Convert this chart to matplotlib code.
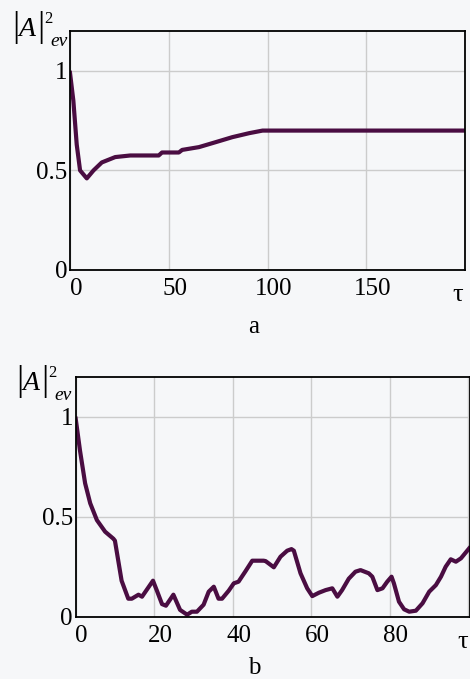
"""Evolution of |A|^2 over tau for two regimes (panels a and b)."""

import matplotlib
matplotlib.use("Agg")
import matplotlib.pyplot as plt
import matplotlib.transforms as mtransforms

# panel a: fast drop, slow recovery, then saturation
tau_a = [0, 1.7, 3.4, 5.1, 8.5, 11.9, 16.1, 22.9, 30.5, 44.9, 46.6, 55.1,
         56.8, 65.3, 73.8, 82.2, 90.7, 97.5, 200]
amp_a = [0.99, 0.85, 0.63, 0.50, 0.46, 0.50, 0.54, 0.567, 0.575, 0.575, 0.59, 0.59,
         0.603, 0.617, 0.642, 0.667, 0.687, 0.70, 0.70]

# panel b: decay followed by irregular oscillation near zero
tau_b = [0, 1.1, 2.4, 3.7, 5.4, 7.5, 9.6, 10.0, 11.7, 13.4, 14.3, 16.0, 16.9,
         19.7, 20.7, 22.0, 23.0, 24.9, 26.6, 28.4, 29.6, 30.9, 32.6, 33.9, 35.2,
         36.4, 37.3, 39.0, 40.3, 41.5, 43.2, 45.0, 47.9, 48.4, 50.5, 52.2, 53.9,
         55.0, 55.6, 57.3, 59.0, 60.3, 62.0, 63.7, 65.4, 66.7, 67.9, 69.6, 71.3,
         72.6, 74.7, 75.6, 76.9, 78.2, 79.4, 80.5, 81.1, 82.4, 83.7, 85.0, 86.7,
         88.4, 90.1, 91.8, 93.1, 94.3, 95.6, 96.9, 98.2, 100.3]
amp_b = [0.99, 0.83, 0.667, 0.567, 0.483, 0.425, 0.39, 0.38, 0.18, 0.09, 0.09, 0.11, 0.10,
         0.18, 0.13, 0.063, 0.055, 0.11, 0.034, 0.01, 0.025, 0.025, 0.06, 0.125, 0.15,
         0.09, 0.09, 0.13, 0.167, 0.175, 0.225, 0.28, 0.28, 0.278, 0.247, 0.30, 0.33,
         0.338, 0.33, 0.217, 0.142, 0.103, 0.12, 0.133, 0.142, 0.10, 0.133, 0.19, 0.225,
         0.233, 0.217, 0.20, 0.133, 0.142, 0.175, 0.20, 0.167, 0.075, 0.037, 0.025, 0.03,
         0.067, 0.125, 0.158, 0.20, 0.25, 0.287, 0.275, 0.292, 0.342]

ticks_a = [0, 50, 100, 150, 200]
ticks_b = [0, 20, 40, 60, 80, 100]
yticks = [0, 0.5, 1]

BG = "#f6f7f9"
LINE = "#4a0d42"
GRID = "#cccccc"
W, H = 470, 679

plt.rcParams["font.family"] = "serif"
plt.rcParams["font.serif"] = ["Liberation Serif", "DejaVu Serif"]
plt.rcParams["font.size"] = 18

fig = plt.figure(figsize=(W / 100, H / 100), dpi=100, facecolor=BG)


def px(x, y):
    """Pixel position (from top-left) to figure fraction."""
    return x / W, 1 - y / H


def setup_axes(ax, xticks, xmax):
    ax.set_facecolor(BG)
    ax.set_xlim(0, xmax)
    ax.set_ylim(0, 1.2)
    ax.set_xticks(xticks)
    ax.set_xticklabels([str(t) for t in xticks[:-1]] + [""])
    ax.set_yticks(yticks)
    ax.set_yticklabels(["0", "0.5", "1"])
    ax.tick_params(length=0, labelsize=18)
    ax.tick_params(axis="x", pad=6)
    ax.tick_params(axis="y", pad=2)
    ax.grid(True, color=GRID, linewidth=1.0)
    ax.set_axisbelow(True)
    for sp in ax.spines.values():
        sp.set_color("black")
        sp.set_linewidth(1.3)
    shift = mtransforms.ScaledTranslation(6 / 100, 0, fig.dpi_scale_trans)
    for lab in ax.get_xticklabels():
        lab.set_transform(lab.get_transform() + shift)


def amp_label(dx, dy):
    """|A|^2 with 'ev' subscript, built from pieces so the bars stay tall."""
    fig.text(*px(15.5 + dx, 36 + dy), "|", fontsize=26, ha="center", va="baseline")
    fig.text(*px(27.5 + dx, 35.7 + dy), "A", fontsize=20, style="italic",
             ha="center", va="baseline")
    fig.text(*px(40.5 + dx, 36 + dy), "|", fontsize=26, ha="center", va="baseline")
    fig.text(*px(48 + dx, 23 + dy), "2", fontsize=12, ha="center", va="baseline")
    fig.text(*px(59.5 + dx, 46 + dy), "ev", fontsize=14, style="italic",
             ha="center", va="baseline")


ax_a = fig.add_axes([70 / W, 1 - 270 / H, 395 / W, 239 / H])
setup_axes(ax_a, ticks_a, 200)
ax_a.plot(tau_a, amp_a, color=LINE, linewidth=3.0, solid_joinstyle="round")

ax_b = fig.add_axes([75.7 / W, 1 - 616.7 / H, 394.3 / W, 240 / H])
setup_axes(ax_b, ticks_b, 100.5)
ax_b.plot(tau_b, amp_b, color=LINE, linewidth=3.0, solid_joinstyle="round")

amp_label(0, 0)
amp_label(4, 354)

fig.text(*px(458, 295), "τ", fontsize=19, ha="center", va="center")
fig.text(*px(463, 642), "τ", fontsize=19, ha="center", va="center")

fig.text(*px(254, 327), "a", fontsize=18, ha="center", va="center")
fig.text(*px(254, 668), "b", fontsize=18, ha="center", va="center")

fig.savefig("out.png", dpi=100, facecolor=BG)
